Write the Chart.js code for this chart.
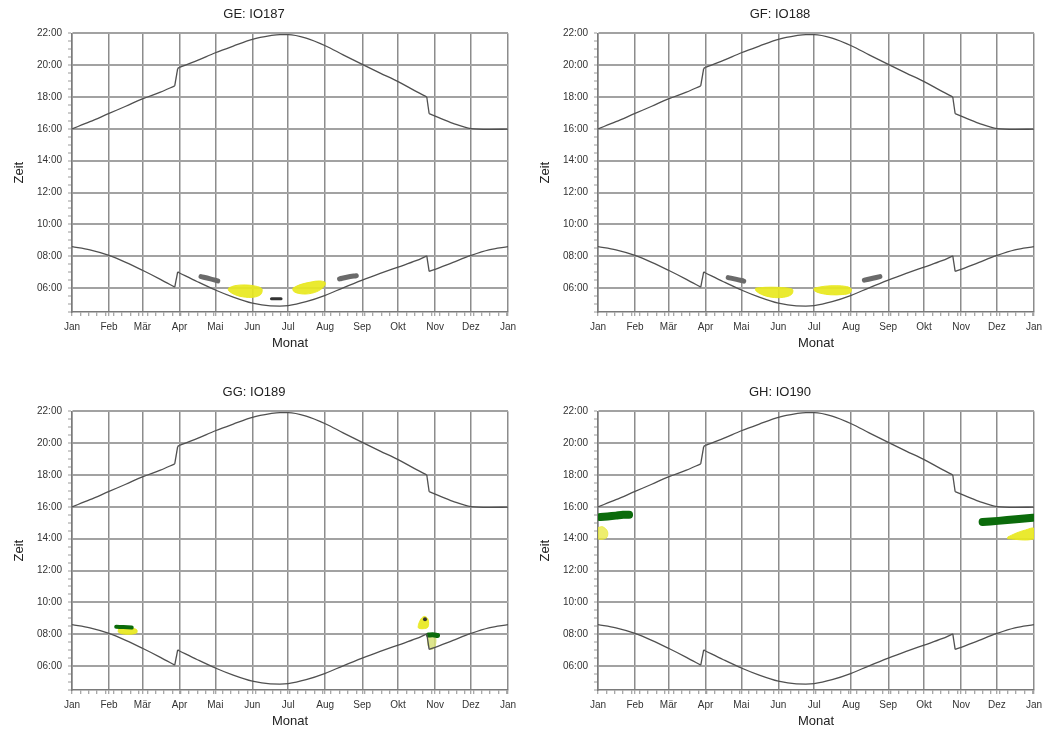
<!DOCTYPE html>
<html>
<head>
<meta charset="utf-8">
<script src="https://cdn.jsdelivr.net/npm/chart.js@4.4.1/dist/chart.umd.min.js"></script>
<style>
  body { margin: 0; background: #fff; }
  .box { position: absolute; width: 526px; height: 352px; }
</style>
</head>
<body>
<div class="box" style="left:0;top:0"><canvas id="ge" width="526" height="352"></canvas></div>
<div class="box" style="left:526px;top:0"><canvas id="gf" width="526" height="352"></canvas></div>
<div class="box" style="left:0;top:378px"><canvas id="gg" width="526" height="352"></canvas></div>
<div class="box" style="left:526px;top:378px"><canvas id="gh" width="526" height="352"></canvas></div>
<script>
// Achsen
const months = ['Jan', 'Feb', 'Mär', 'Apr', 'Mai', 'Jun', 'Jul', 'Aug', 'Sep', 'Okt', 'Nov', 'Dez', 'Jan'];
const monthStarts = [0, 31, 59, 90, 120, 151, 181, 212, 243, 273, 304, 334, 365];
const hourTicks = [6, 8, 10, 12, 14, 16, 18, 20, 22];

// Sonnenauf-/untergang (Tag im Jahr, Stunde)
const curveDays = [0, 15, 31, 45, 59, 74, 86, 88.5, 90, 105, 120, 135, 151, 166, 174, 181, 196, 212, 227, 243, 258, 273, 288, 297, 299, 304, 319, 334, 349, 365];
const sunrise = [8.6, 8.4, 8.05, 7.62, 7.12, 6.55, 6.06, 7.02, 6.95, 6.4, 5.88, 5.43, 5.05, 4.88, 4.87, 4.9, 5.15, 5.55, 6.02, 6.5, 6.92, 7.32, 7.72, 8.02, 7.05, 7.18, 7.62, 8.05, 8.4, 8.6];
const sunset = [16.0, 16.45, 16.97, 17.42, 17.88, 18.3, 18.7, 19.8, 19.86, 20.3, 20.78, 21.2, 21.62, 21.85, 21.92, 21.92, 21.7, 21.22, 20.65, 20.05, 19.5, 18.97, 18.35, 18.0, 16.95, 16.8, 16.35, 16.02, 15.97, 15.98];

// Schattenzeiten je Immissionsort
const geGreyA = [[108, 6.72], [115, 6.6], [122, 6.45]];
const geYellowA = [[131, 6.0], [136, 6.15], [145, 6.2], [154, 6.12], [159, 5.95], [158, 5.6], [152, 5.43], [143, 5.45], [136, 5.6], [131, 5.85]];
const geDash = [[167, 5.33], [175, 5.33]];
const geYellowB = [[185, 6.0], [191, 6.22], [200, 6.38], [207, 6.45], [212, 6.35], [211, 6.1], [205, 5.78], [196, 5.63], [188, 5.7], [185, 5.85]];
const geGreyB = [[224, 6.58], [231, 6.7], [238, 6.78]];

const gfGreyA = [[109, 6.66], [116, 6.55], [122, 6.44]];
const gfYellowA = [[132, 6.0], [140, 6.05], [150, 6.05], [159, 6.0], [163, 5.9], [162, 5.6], [155, 5.42], [145, 5.43], [137, 5.6], [132, 5.85]];
const gfYellowB = [[181, 6.0], [190, 6.12], [200, 6.15], [208, 6.1], [212, 5.95], [211, 5.7], [205, 5.6], [195, 5.58], [186, 5.68], [181, 5.85]];
const gfGreyB = [[223, 6.5], [230, 6.62], [236, 6.72]];

const ggGreenA = [[37, 8.47], [43, 8.45], [50, 8.42]];
const ggYellowA = [[39, 8.38], [46, 8.42], [54, 8.3], [54, 8.08], [46, 8.0], [39, 8.12]];
const ggYellowB = [[290, 8.6], [292, 8.95], [295, 9.12], [298, 8.95], [298, 8.45], [294, 8.35], [290, 8.4]];
const ggDot = [[295.5, 8.95]];
const ggGreenB = [[298.5, 7.95], [302, 7.97], [306, 7.92]];
const ggPaleB = [[298, 7.85], [304, 7.85], [304, 7.25], [301, 7.05], [298, 7.3]];

const ghGreenA = [[2, 15.36], [8, 15.4], [15, 15.45], [21, 15.5], [26, 15.5]];
const ghYellowA = [[0, 14.7], [4, 14.75], [8, 14.45], [7, 14.05], [0, 14.0]];
const ghGreenB = [[322, 15.05], [335, 15.12], [350, 15.22], [364, 15.32]];
const ghYellowB = [[343, 14.1], [350, 14.35], [358, 14.55], [365, 14.65], [365, 14.0], [343, 14.0]];

const FONT = "'Liberation Sans', Arial, sans-serif";
const YELLOW = 'rgba(232,232,30,0.92)';
const GREEN = '#0b6b0b';
const GREY = '#6a6a6a';
const CURVE = '#505050';

function pts(arr) {
    return arr.map(function(p) { return {x: p[0], y: p[1]}; });
}
// split the curve at the clock changes, smooth in between
function curve(values) {
    var pieces = [], cur = [];
    curveDays.forEach(function(d, i) {
        if (i > 0 && d - curveDays[i - 1] < 3) {
            pieces.push({pts: cur, smooth: true});
            pieces.push({pts: [cur[cur.length - 1], {x: d, y: values[i]}], smooth: false});
            cur = [];
        }
        cur.push({x: d, y: values[i]});
    });
    pieces.push({pts: cur, smooth: true});
    return pieces.map(function(p) {
        return {
            data: p.pts, borderColor: CURVE, borderWidth: 1.3, pointRadius: 0, fill: false,
            cubicInterpolationMode: p.smooth ? 'monotone' : 'default', tension: 0
        };
    });
}
function blob(arr, col) {
    return {
        data: pts(arr.concat([arr[0]])),
        borderColor: col, backgroundColor: col, borderWidth: 1,
        fill: 'shape', pointRadius: 0, tension: 0.35
    };
}
function stroke(arr, col, w) {
    return {
        data: pts(arr), borderColor: col, borderWidth: w, borderCapStyle: 'round',
        pointRadius: 0, fill: false, tension: 0.3
    };
}
function dot(arr) {
    return {data: pts(arr), showLine: false, pointRadius: 2, pointBackgroundColor: '#333', pointBorderWidth: 0};
}

// minor ticks: weekly on x, half-hourly on y
var xTickValues = monthStarts.slice();
for (var d = 7; d < 365; d += 7) {
    if (xTickValues.indexOf(d) < 0) xTickValues.push(d);
}
xTickValues.sort(function(a, b) { return a - b; });
var yTickValues = [];
for (var h = 4.5; h <= 22; h += 0.5) yTickValues.push(h);

function makeChart(id, title, extra) {
    var ctx = document.getElementById(id).getContext('2d');
    return new Chart(ctx, {
        type: 'line',
        data: {
            datasets: curve(sunset).concat(curve(sunrise), extra)
        },
        options: {
            responsive: false,
            animation: false,
            layout: {padding: {left: 0, right: 18, top: 0, bottom: 0}},
            plugins: {
                legend: {display: false},
                tooltip: {enabled: false},
                title: {
                    display: true, text: title, color: '#222',
                    font: {family: FONT, size: 13, weight: 'normal'},
                    padding: {top: 7, bottom: 10.7}
                }
            },
            scales: {
                x: {
                    type: 'linear', min: 0, max: 365,
                    afterBuildTicks: function(s) { s.ticks = xTickValues.map(function(v) { return {value: v}; }); },
                    afterFit: function(s) { s.height = 40; },
                    ticks: {
                        autoSkip: false, maxRotation: 0, minRotation: 0, padding: 5,
                        color: '#333', font: {family: FONT, size: 10},
                        callback: function(v) {
                            var i = monthStarts.indexOf(v);
                            return i >= 0 ? months[i] : '';
                        }
                    },
                    grid: {
                        color: function(c) {
                            return c.tick && monthStarts.indexOf(c.tick.value) >= 0 ? '#8c8c8c' : 'rgba(0,0,0,0)';
                        },
                        lineWidth: 1.5, tickLength: 4, tickColor: '#8c8c8c', tickWidth: 1
                    },
                    border: {display: true, color: '#7a7a7a', width: 1.5},
                    title: {
                        display: true, text: 'Monat', color: '#222',
                        font: {family: FONT, size: 13}, padding: {top: 0, bottom: 1.2}
                    }
                },
                y: {
                    min: 4.5, max: 22,
                    afterBuildTicks: function(s) { s.ticks = yTickValues.map(function(v) { return {value: v}; }); },
                    afterFit: function(s) { s.width = 72; },
                    ticks: {
                        autoSkip: false, padding: 6, color: '#333', font: {family: FONT, size: 10},
                        callback: function(v) {
                            return hourTicks.indexOf(v) >= 0 ? String(v).padStart(2, '0') + ':00' : '';
                        }
                    },
                    grid: {
                        color: function(c) {
                            return c.tick && hourTicks.indexOf(c.tick.value) >= 0 ? '#a2a2a2' : 'rgba(0,0,0,0)';
                        },
                        lineWidth: 2, tickLength: 4, tickColor: '#9a9a9a', tickWidth: 1
                    },
                    border: {display: true, color: '#7a7a7a', width: 1.5},
                    title: {
                        display: true, text: 'Zeit', color: '#222',
                        font: {family: FONT, size: 13}, padding: {top: 12, bottom: 0}
                    }
                }
            }
        }
    });
}

makeChart('ge', 'GE: IO187', [
    stroke(geGreyA, GREY, 5), blob(geYellowA, YELLOW), stroke(geDash, '#333', 3),
    blob(geYellowB, YELLOW), stroke(geGreyB, GREY, 5)
]);
makeChart('gf', 'GF: IO188', [
    stroke(gfGreyA, GREY, 5), blob(gfYellowA, YELLOW), blob(gfYellowB, YELLOW), stroke(gfGreyB, GREY, 5)
]);
makeChart('gg', 'GG: IO189', [
    stroke(ggGreenA, GREEN, 4), blob(ggYellowA, YELLOW), dot(ggDot), blob(ggYellowB, YELLOW),
    stroke(ggGreenB, GREEN, 5), blob(ggPaleB, 'rgba(215,225,120,0.85)')
]);
makeChart('gh', 'GH: IO190', [
    stroke(ghGreenA, GREEN, 8), blob(ghYellowA, 'rgba(232,232,60,0.75)'),
    stroke(ghGreenB, GREEN, 8), blob(ghYellowB, YELLOW)
]);
</script>
</body>
</html>
